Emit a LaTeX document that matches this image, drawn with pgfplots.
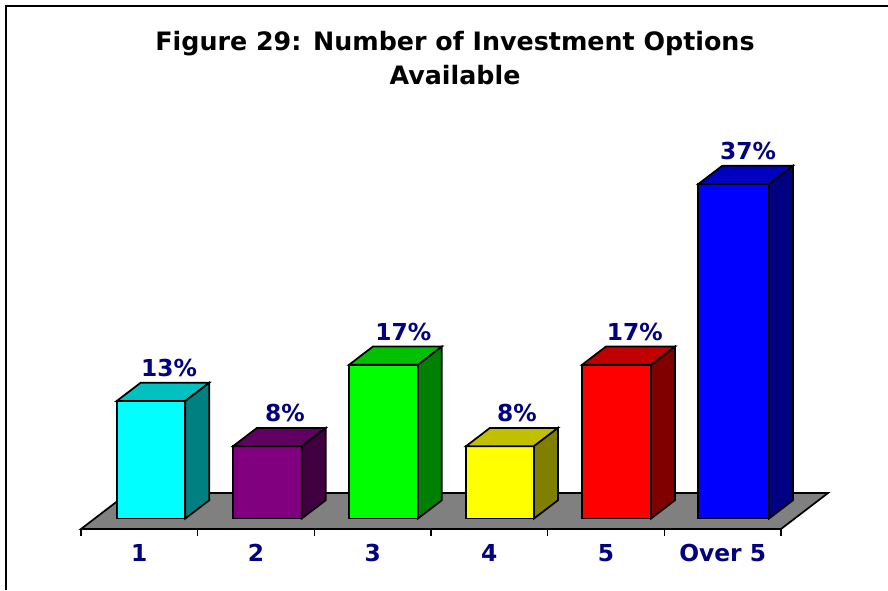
\documentclass[border=0pt]{standalone}
\usepackage{fontspec}
\setmainfont{DejaVu Sans}
\usepackage{pgfplots}
\pgfplotsset{compat=1.18}
\definecolor{navy}{HTML}{000080}
\definecolor{floorc}{HTML}{808080}
\definecolor{cA}{HTML}{00FFFF}\definecolor{cAt}{HTML}{00C0C0}\definecolor{cAs}{HTML}{008080}
\definecolor{cB}{HTML}{800080}\definecolor{cBt}{HTML}{600060}\definecolor{cBs}{HTML}{400040}
\definecolor{cC}{HTML}{00FF00}\definecolor{cCt}{HTML}{00C000}\definecolor{cCs}{HTML}{008000}
\definecolor{cD}{HTML}{FFFF00}\definecolor{cDt}{HTML}{C0C000}\definecolor{cDs}{HTML}{808000}
\definecolor{cE}{HTML}{FF0000}\definecolor{cEt}{HTML}{C00000}\definecolor{cEs}{HTML}{800000}
\definecolor{cF}{HTML}{0000FF}\definecolor{cFt}{HTML}{0000C0}\definecolor{cFs}{HTML}{000080}
\newcommand\threedbar[9]{%
  % colours front/top/side; left, right, value; back left, back right, back value
  \addplot[fill=#1,draw=black,line width=1.3pt] coordinates {(#4,0) (#5,0) (#5,#6) (#4,#6)} --cycle;
  \addplot[fill=#2,draw=black,line width=1.3pt] coordinates {(#4,#6) (#5,#6) (#8,#9) (#7,#9)} --cycle;
  \addplot[fill=#3,draw=black,line width=1.3pt] coordinates {(#5,0) (#8,2.02) (#8,#9) (#5,#6)} --cycle;
}
\begin{document}
\begin{tikzpicture}
\begin{axis}[
  at={(60.75pt,45.75pt)}, anchor=south west,
  scale only axis, width=525pt, height=279.05pt,
  xmin=0, xmax=6, ymin=-1.16, ymax=40,
  clip=false,
  axis x line*=bottom, axis y line=none,
  axis line style={-,line width=1.3pt,black},
  xtick={0.5,1.5,2.5,3.5,4.5,5.5},
  xticklabels={1,2,3,4,5,Over 5},
  minor xtick={0,1,2,3,4,5,6},
  major tick length=0pt, minor tick length=5pt,
  tick align=outside,
  minor tick style={line width=1.2pt,black},
  xticklabel style={font=\fontsize{17.5}{20}\selectfont\bfseries, text=navy, yshift=-8pt},
]
% floor
\addplot[fill=floorc,draw=black,line width=1.3pt] coordinates {(0,-1.16) (6,-1.16) (6.403,2.82) (0.403,2.82)} --cycle;
\threedbar{cA}{cAt}{cAs}{0.306}{0.894}{13}{0.511}{1.099}{15.02}
\threedbar{cB}{cBt}{cBs}{1.303}{1.892}{8}{1.508}{2.097}{10.02}
\threedbar{cC}{cCt}{cCs}{2.297}{2.888}{17}{2.502}{3.093}{19.02}
\threedbar{cD}{cDt}{cDs}{3.300}{3.883}{8}{3.505}{4.088}{10.02}
\threedbar{cE}{cEt}{cEs}{4.294}{4.886}{17}{4.499}{5.091}{19.02}
\threedbar{cF}{cFt}{cFs}{5.291}{5.897}{37}{5.496}{6.102}{39.02}
% value labels
\addplot[draw=none,mark=none,
  nodes near coords={\pgfmathprintnumber{\pgfplotspointmeta}\%},
  /pgf/number format/assume math mode=true,
  nodes near coords style={anchor=center,yshift=25pt,text=navy,font=\fontsize{17.5}{20}\selectfont\bfseries}]
  coordinates {(0.754,13) (1.748,8) (2.763,17) (3.737,8) (4.746,17) (5.717,37)};
\end{axis}
\node[font=\fontsize{19}{25.5}\selectfont\bfseries,align=center] at (341.25pt,399pt) {Figure 29: Number of Investment Options\\Available};
\draw[line width=1.6pt,black] (4.8pt,0pt) -- (4.8pt,438.3pt) -- (666pt,438.3pt);
\pgfresetboundingbox
\path[use as bounding box] (0,0) rectangle (666pt,442.5pt);
\end{tikzpicture}
\end{document}
